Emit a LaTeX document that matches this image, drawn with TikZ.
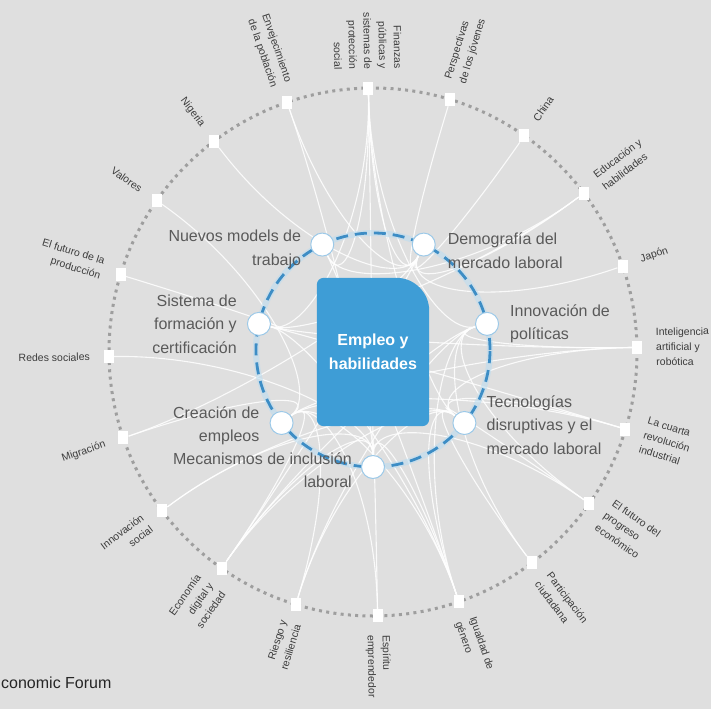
\documentclass[tikz,border=0pt]{standalone}
\usepackage{fontspec}
\setmainfont{Liberation Sans}
\usetikzlibrary{positioning, calc, backgrounds}
\definecolor{bggray}{HTML}{DFDFDF}
\definecolor{dotgray}{HTML}{9E9E9E}
\definecolor{ringblue}{HTML}{3D8DC5}
\definecolor{haloblue}{HTML}{BCDDF0}
\definecolor{boxblue}{HTML}{3E9DD6}
\definecolor{hubedge}{HTML}{9CC9E8}
\definecolor{taggray}{HTML}{3C3C3C}
\definecolor{topicgray}{HTML}{5A5A5A}

\begin{document}
\begin{tikzpicture}[x=1pt, y=1pt,
  sq/.style={fill=white, minimum width=10pt, minimum height=13pt, inner sep=0pt},
  hubnode/.style={circle, fill=white, draw=hubedge, line width=1pt, minimum size=23pt, inner sep=0pt},
  tagin/.style={font=\fontsize{10.5}{15}\selectfont, text=taggray, inner sep=0pt, anchor=east, align=right},
  tagout/.style={font=\fontsize{10.5}{15}\selectfont, text=taggray, inner sep=0pt, anchor=west, align=left},
  topic/.style={font=\fontsize{16}{23.5}\selectfont, text=topicgray, inner sep=0pt},
  link/.style={white, line width=1.1pt, opacity=0.85},
]
\useasboundingbox (-373,-357) rectangle (338,352);
\begin{scope}[on background layer]
\fill[bggray] (-373,-357) rectangle (338,352);
\end{scope}

\coordinate (hub) at (0,0);
\draw[dotgray, line width=3pt, dash pattern=on 3pt off 4.3pt] (hub) circle[radius=264];

% outer ring
\node[sq] (fin) at (91:264) {};
\node[sq] (pjo) at (73:264) {};
\node[sq] (chi) at (55:264) {};
\node[sq] (edu) at (37:264) {};
\node[sq] (jap) at (19:264) {};
\node[sq] (iar) at (1:264) {};
\node[sq] (crv) at (-17:264) {};
\node[sq] (fpe) at (-35:264) {};
\node[sq] (pci) at (-53:264) {};
\node[sq] (igu) at (-71:264) {};
\node[sq] (esp) at (-89:264) {};
\node[sq] (rre) at (-107:264) {};
\node[sq] (eds) at (-125:264) {};
\node[sq] (ins) at (-143:264) {};
\node[sq] (mig) at (-161:264) {};
\node[sq] (rso) at (-179:264) {};
\node[sq] (fpr) at (163:264) {};
\node[sq] (val) at (145:264) {};
\node[sq] (nig) at (127:264) {};
\node[sq] (env) at (109:264) {};

\node[tagin, rotate=271] (fin-t) at (91:283) {Finanzas\\públicas y\\sistemas de\\protección\\social};
\node[tagout, rotate=73] (pjo-t) at (73:283) {Perspectivas\\de los jóvenes};
\node[tagout, rotate=55] (chi-t) at (55:283) {China};
\node[tagout, rotate=37] (edu-t) at (37:283) {Educación y\\habilidades};
\node[tagout, rotate=19] (jap-t) at (19:283) {Japón};
\node[tagout, rotate=1] (iar-t) at (1:283) {Inteligencia\\artificial y\\robótica};
\node[tagout, rotate=-17] (crv-t) at (-17:283) {La cuarta\\revolución\\industrial};
\node[tagout, rotate=-35] (fpe-t) at (-35:283) {El futuro del\\progreso\\económico};
\node[tagout, rotate=-53] (pci-t) at (-53:283) {Participación\\ciudadana};
\node[tagout, rotate=-71] (igu-t) at (-71:283) {Igualdad de\\género};
\node[tagout, rotate=-89] (esp-t) at (-89:283) {Espíritu\\emprendedor};
\node[tagin, rotate=73] (rre-t) at (-107:283) {Riesgo y\\resiliencia};
\node[tagin, rotate=55] (eds-t) at (-125:283) {Economía\\digital y\\sociedad};
\node[tagin, rotate=37] (ins-t) at (-143:283) {Innovación\\social};
\node[tagin, rotate=19] (mig-t) at (-161:283) {Migración};
\node[tagin, rotate=1] (rso-t) at (-179:283) {Redes sociales};
\node[tagin, rotate=-17] (fpr-t) at (163:283) {El futuro de la\\producción};
\node[tagin, rotate=-35] (val-t) at (145:283) {Valores};
\node[tagin, rotate=-53] (nig-t) at (127:283) {Nigeria};
\node[tagin, rotate=-71] (env-t) at (109:283) {Envejecimiento\\de la población};

% inner ring
\begin{scope}[shift={(0,2)}]
\draw[haloblue, line width=6pt, opacity=0.6] (0,0) circle[radius=117];
\draw[ringblue, line width=2.8pt, dash pattern=on 12pt off 7pt] (0,0) circle[radius=117];
\node[hubnode] (dml) at (64.3:117) {};
\node[hubnode] (ipo) at (12.9:117) {};
\node[hubnode] (tdm) at (-38.6:117) {};
\node[hubnode] (mil) at (-90:117) {};
\node[hubnode] (cem) at (-141.4:117) {};
\node[hubnode] (sfc) at (167.1:117) {};
\node[hubnode] (nmt) at (115.7:117) {};
\end{scope}

\node[topic, left=9pt of nmt, yshift=-5pt, align=right] (nmt-t) {Nuevos models de\\trabajo};
\node[topic, right=12pt of dml, yshift=-6pt, align=left] (dml-t) {Demografía del\\mercado laboral};
\node[topic, right=11pt of ipo, align=left] (ipo-t) {Innovación de\\políticas};
\node[topic, right=10pt of tdm, yshift=-2pt, align=left] (tdm-t) {Tecnologías\\disruptivas y el\\mercado laboral};
\node[topic, left=9pt of mil, yshift=-3pt, align=right] (mil-t) {Mecanismos de inclusión\\laboral};
\node[topic, left=10pt of cem, yshift=-3pt, align=right] (cem-t) {Creación de\\empleos};
\node[topic, left=10pt of sfc, align=right] (sfc-t) {Sistema de\\formación y\\certificación};

\node[font=\fontsize{16}{24}\selectfont\bfseries, text=white, minimum width=112pt, minimum height=148pt, inner sep=0pt, align=center] (core) at (hub) {Empleo y\\habilidades};

\node[anchor=base west, font=\fontsize{16}{19}\selectfont, text=black!85, inner sep=0pt] (wef) at (-372,-336) {conomic Forum};

\begin{scope}[on background layer]
\foreach \a/\b in {env/dml, env/mil, fin/sfc, fin/nmt, fin/mil, fin/dml, fin/ipo, fin/tdm,
  pjo/dml, chi/dml, edu/dml, edu/nmt, edu/sfc, jap/dml, iar/ipo, iar/tdm, iar/sfc, iar/cem,
  crv/tdm, crv/sfc, crv/cem, fpe/tdm, fpe/ipo, fpe/mil, pci/ipo, pci/tdm,
  igu/mil, igu/cem, igu/sfc, igu/nmt, igu/tdm, igu/ipo, esp/mil, esp/cem,
  rre/tdm, rre/ipo, rre/cem, eds/cem, eds/mil, eds/tdm, eds/ipo, eds/dml,
  ins/mil, ins/tdm, mig/cem, mig/dml, rso/mil, fpr/sfc, val/cem, nig/dml}
  \draw[link] (\a) .. controls ($(\a)!0.5!(hub)$) and ($(hub)!0.55!(\b)$) .. (\b);
\fill[boxblue] ([yshift=7pt]core.south west) -- ([yshift=-7pt]core.north west)
  arc[start angle=180, end angle=90, radius=7pt] -- ([xshift=-33pt]core.north east)
  arc[start angle=90, end angle=0, radius=33pt] -- ([yshift=7pt]core.south east)
  arc[start angle=0, end angle=-90, radius=7pt] -- ([xshift=7pt]core.south west)
  arc[start angle=270, end angle=180, radius=7pt] -- cycle;
\end{scope}
\end{tikzpicture}
\end{document}
